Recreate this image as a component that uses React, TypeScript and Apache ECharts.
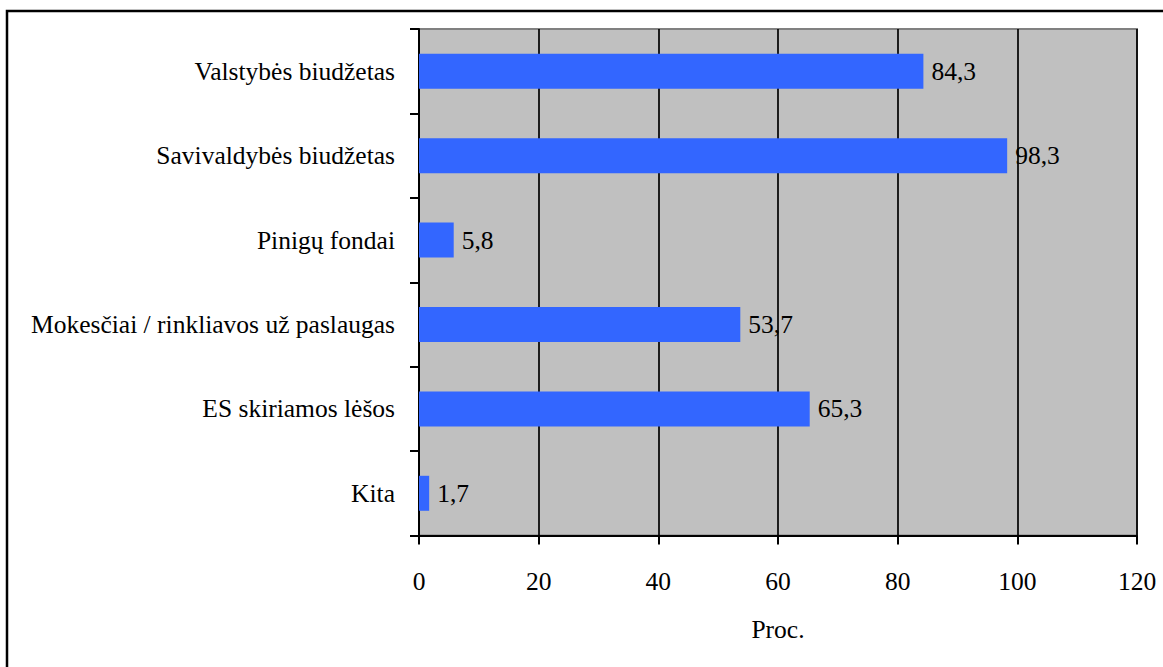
import React, { useEffect, useRef } from "react";
import * as echarts from "echarts";

// Funding sources and their shares, in percent
const categories: string[] = [
  "Valstybės biudžetas",
  "Savivaldybės biudžetas",
  "Pinigų fondai",
  "Mokesčiai / rinkliavos už paslaugas",
  "ES skiriamos lėšos",
  "Kita",
];
const shares: number[] = [84.3, 98.3, 5.8, 53.7, 65.3, 1.7];
const axisTitle = "Proc.";

const FONT = "Liberation Serif";
const FONT_SIZE = 25.5;

export default function App() {
  const ref = useRef<HTMLDivElement>(null);

  useEffect(() => {
    if (!ref.current) return;
    const chart = echarts.init(ref.current, undefined, { renderer: "svg" });
    chart.setOption({
      animation: false,
      backgroundColor: "#ffffff",
      textStyle: { fontFamily: FONT, color: "#000" },
      graphic: [
        {
          type: "rect",
          shape: { x: 7, y: 11, width: 1200, height: 700 },
          style: { fill: "none", stroke: "#000", lineWidth: 2.5 },
          z: 10,
        },
      ],
      grid: {
        left: 419,
        right: 26,
        top: 29,
        bottom: 131.5,
        show: true,
        backgroundColor: "#C0C0C0",
        borderColor: "#808080",
        borderWidth: 2,
      },
      xAxis: {
        type: "value",
        min: 0,
        max: 120,
        interval: 20,
        name: axisTitle,
        nameLocation: "middle",
        nameGap: 81,
        nameTextStyle: { fontFamily: FONT, fontSize: FONT_SIZE, color: "#000" },
        axisLine: { show: true, onZero: false, lineStyle: { color: "#000", width: 2 } },
        axisTick: { show: true, length: 9, lineStyle: { color: "#000", width: 2 } },
        axisLabel: { fontFamily: FONT, fontSize: FONT_SIZE, color: "#000", margin: 33 },
        splitLine: { show: true, lineStyle: { color: "#000", width: 1.7 } },
      },
      yAxis: {
        type: "category",
        inverse: true,
        data: categories,
        axisLine: { show: true, lineStyle: { color: "#000", width: 2 } },
        axisTick: { show: true, length: 9, lineStyle: { color: "#000", width: 2 } },
        axisLabel: { fontFamily: FONT, fontSize: FONT_SIZE, color: "#000", margin: 24 },
        splitLine: { show: false },
      },
      series: [
        {
          type: "bar",
          data: shares,
          barWidth: 35,
          itemStyle: { color: "#3366FF" },
          label: {
            show: true,
            position: "right",
            distance: 8,
            fontFamily: FONT,
            fontSize: FONT_SIZE,
            color: "#000",
            formatter: (p: any) => String(p.value).replace(".", ","),
          },
          z: 3,
        },
      ],
    });
    return () => chart.dispose();
  }, []);

  return (
    <div
      ref={ref}
      style={{ position: "fixed", left: 0, top: 0, width: 1163, height: 667 }}
    />
  );
}
